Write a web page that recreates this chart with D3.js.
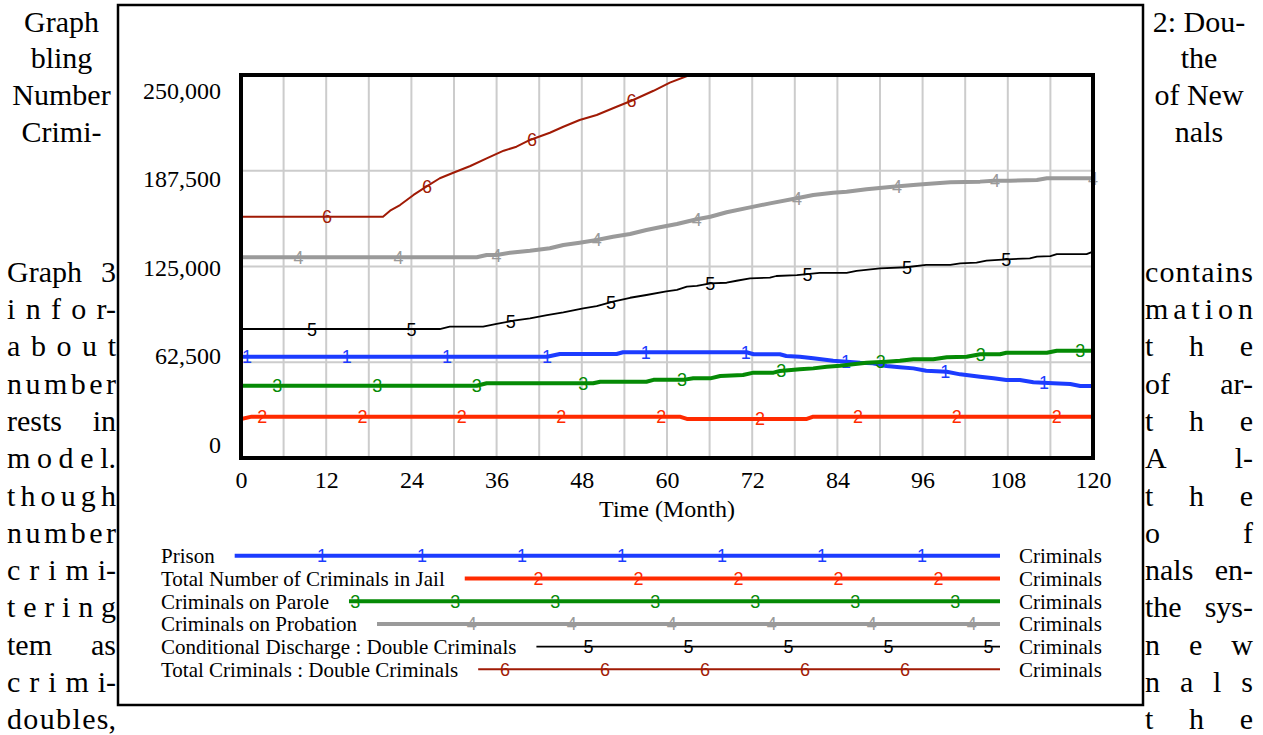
<!DOCTYPE html>
<html>

<head>
    <meta charset="utf-8">
    <style>
        body {
            margin: 0;
            background: #fff;
        }

        svg {
            display: block;
        }

        .page-text {
            font-family: "Liberation Serif", "Times New Roman", serif;
            font-size: 30px;
            fill: #000;
        }

        .tick text {
            font-family: "Liberation Serif", "Times New Roman", serif;
            font-size: 24px;
            fill: #000;
        }

        .axis-title {
            font-family: "Liberation Serif", "Times New Roman", serif;
            font-size: 24px;
        }

        .legend-label {
            font-family: "Liberation Serif", "Times New Roman", serif;
            font-size: 21px;
        }

        .marker {
            font-family: "Liberation Sans", Arial, sans-serif;
            font-size: 18px;
        }
    </style>
</head>

<body>
    <svg width="1263" height="735"></svg>
</body>

<script src="https://d3js.org/d3.v7.min.js"></script>

<script>
    // ---- data: [month, criminals] ----
    let prison = [[0, 66100], [43.1, 66100], [44.9, 67900], [52.9, 67900], [53.8, 69000], [71.2, 69000],
        [72.2, 67700], [75.9, 67700], [76.8, 66600], [78.7, 66100], [80.6, 65100], [83.4, 63500],
        [85.3, 62900], [87.2, 62200], [89, 61800], [90.9, 60000], [92.8, 59200], [94.7, 58500],
        [96.5, 57000], [99.4, 56300], [101.3, 54600], [104.1, 53100], [106, 52000], [107.8, 50900],
        [109.7, 50900], [111.6, 49400], [114.4, 48800], [116.8, 48300], [118.2, 47000], [120, 47000]]

    let jail = [[0, 25500], [1.5, 27000], [61.8, 27000], [62.8, 25500], [79.7, 25500], [80.6, 27000], [120, 27000]]

    let parole = [[0, 47200], [33.2, 47200], [34.6, 48800], [49.6, 48800], [50.6, 49800], [57.1, 49800],
        [58.1, 51000], [62.3, 51000], [63.7, 52000], [66.1, 52000], [67.5, 53500], [70.7, 54200],
        [72.2, 55700], [75, 55700], [75.9, 56800], [78.7, 57900], [80.6, 58500], [82.5, 59600],
        [84.4, 60200], [86.2, 61200], [88.1, 62200], [90.9, 62900], [92.8, 63500], [94.7, 64400],
        [97.5, 64400], [99.4, 65700], [102.2, 66100], [104.1, 67700], [106.9, 67700], [107.8, 68700],
        [113.5, 68700], [114.9, 70000], [120, 70000]]

    let probation = [[0, 131000], [33.2, 131000], [34.6, 132500], [36, 132500], [37.9, 134000], [40.7, 135300],
        [43.5, 136900], [45.4, 139000], [47.7, 140500], [50.1, 142300], [52.4, 144400], [54.8, 146200],
        [57.1, 148800], [59, 150600], [61.4, 152700], [64.2, 155800], [66.1, 157500], [68.4, 160400],
        [71.7, 163600], [74.5, 166200], [78.3, 169500], [80.6, 171700], [83.4, 173200], [85.3, 173800],
        [88.1, 175400], [91.8, 177100], [94.7, 178200], [96.5, 178800], [99.9, 180000], [104.1, 180400],
        [106, 181000], [108.3, 181000], [112.1, 181500], [113.5, 182600], [120, 182600]]

    let discharge = [[0, 84200], [28, 84200], [29.4, 85700], [34.1, 85700], [36, 87500], [38.4, 89600],
        [40.7, 91200], [43.1, 93300], [45.4, 95100], [48.2, 97700], [50.1, 99200], [52.4, 102000],
        [54.8, 104600], [57.1, 106400], [59.9, 108800], [61.4, 109700], [62.8, 111800], [64.2, 112300],
        [66.1, 114000], [68.4, 114400], [69.8, 115700], [71.7, 117300], [74.5, 117700], [75.4, 118800],
        [78.3, 119400], [81.5, 120900], [85.3, 120900], [86.7, 122200], [90, 123800], [93.7, 124500],
        [96.5, 126000], [99.9, 126000], [101.3, 127100], [103.6, 127500], [105, 128800], [107.8, 129700],
        [111.1, 130300], [112.1, 131400], [114, 131800], [114.9, 133100], [119.1, 133100], [120, 134700]]

    let totalCriminals = [[0, 157500], [20, 157500], [21, 161400], [22.4, 165100], [24.3, 171700], [26.1, 177100],
        [28, 182600], [29.9, 186200], [32.3, 190600], [34.6, 195600], [37, 200600], [38.8, 203200],
        [40.7, 207600], [43.5, 212300], [45.4, 216200], [47.7, 220600], [50.1, 223900], [52.9, 229300],
        [55, 233200], [58.1, 239700], [60.4, 245000], [63.2, 250000]]

    // months where the series number is printed on each line
    let markerMonths = [
        [0.85, 14.9, 29, 43.1, 57, 71.1, 85.2, 99.2, 113.1],
        [3, 17.1, 31.1, 45.1, 59.2, 73.1, 86.9, 100.8, 114.9],
        [5.1, 19.2, 33.2, 48.2, 62.1, 76.1, 90.1, 104.2, 118.2],
        [8.1, 22.2, 36, 50.1, 64.2, 78.3, 92.4, 106.2, 120],
        [10, 24, 38, 52.1, 66.1, 79.8, 93.8, 107.8],
        [12.1, 26.2, 41, 55]
    ]

    let seriesNames = ["Prison", "Total Number of Criminals in Jail", "Criminals on Parole",
        "Criminals on Probation", "Conditional Discharge : Double Criminals", "Total Criminals : Double Criminals"]
    let seriesUnits = ["Criminals", "Criminals", "Criminals", "Criminals", "Criminals", "Criminals"]
    let seriesColors = ["#1c3cff", "#ff2a00", "#058a05", "#9a9a9a", "#000000", "#a01a05"]
    let seriesWidths = [4, 4, 4, 4, 1.8, 2]

    let xTicks = [0, 12, 24, 36, 48, 60, 72, 84, 96, 108, 120]
    let yTicks = [0, 62500, 125000, 187500, 250000]
    let xLabel = "Time (Month)"

    // text of the page that wraps round the figure
    let leftCaption = ["Graph", "bling", "Number", "Crimi-"]
    let rightCaption = ["2: Dou-", "the", "of New", "nals"]
    let leftPara = ["Graph 3", "infor-", "about", "number", "rests in", "model.", "though", "number",
        "crimi-", "tering", "tem as", "crimi-", "doubles,"]
    let rightPara = ["contains", "mation", "the", "of ar-", "the", "Al-", "the", "of", "nals en-",
        "the sys-", "new", "nals", "the"]

    let allSeries = [prison, jail, parole, probation, discharge, totalCriminals]

    let svg = d3.select("svg")

    // ---- page text ----
    let page = svg.append("g").attr("class", "page-text")

    function pageLine(str, x0, x1, yb, centered) {
        if (centered) {
            page.append("text").attr("x", (x0 + x1) / 2).attr("y", yb)
                .attr("text-anchor", "middle").text(str)
            return
        }
        let words = str.split(" ")
        if (words.length === 1) {
            // a lone word is spread letter by letter, punctuation sticks to its letter
            let units = str.match(/.[-.,]?/g)
            let t = page.append("text").attr("y", yb)
            let spans = units.map(u => t.append("tspan").text(u))
            let widths = spans.map(s => s.node().getComputedTextLength())
            let gap = units.length > 1 ? (x1 - x0 - d3.sum(widths)) / (units.length - 1) : 0
            let cx = x0
            spans.forEach((s, i) => {
                s.attr("x", cx)
                cx += widths[i] + gap
            })
        } else {
            let nodes = words.map(wd => page.append("text").attr("y", yb).text(wd))
            let widths = nodes.map(n => n.node().getComputedTextLength())
            let gap = (x1 - x0 - d3.sum(widths)) / (words.length - 1)
            let cx = x0
            nodes.forEach((n, i) => {
                n.attr("x", cx)
                cx += widths[i] + gap
            })
        }
    }

    leftCaption.forEach((s, i) => pageLine(s, 7, 116, 31.7 + 36.7 * i, true))
    rightCaption.forEach((s, i) => pageLine(s, 1145, 1253, 31.7 + 36.7 * i, true))
    leftPara.forEach((s, i) => pageLine(s, 7, 116, 281.7 + 37.3 * i, false))
    rightPara.forEach((s, i) => pageLine(s, 1145, 1253, 281.7 + 37.3 * i, false))

    // figure box
    svg.append("rect")
        .attr("x", 118).attr("y", 5).attr("width", 1025).attr("height", 700)
        .style("fill", "#fff").style("stroke", "#000").style("stroke-width", 2.5)

    // ---- chart ----
    let x = d3.scaleLinear().domain([0, 120]).range([241, 1093])
    let y = d3.scaleLinear().domain([0, 250000]).range([458, 75])
    // vensim spreads the value labels evenly inside the plot height
    let yLabelPos = d3.scaleLinear().domain([0, 250000]).range([444.5, 90.5])

    let grid = svg.append("g")
        .style("stroke", "#cccccc")
        .style("stroke-width", 2)

    grid.selectAll(".vgrid")
        .data(d3.range(6, 120, 6))
        .join("line")
        .attr("x1", d => x(d)).attr("x2", d => x(d))
        .attr("y1", y(250000)).attr("y2", y(0))

    grid.selectAll(".hgrid")
        .data(yTicks.slice(1, -1))
        .join("line")
        .attr("x1", x(0)).attr("x2", x(120))
        .attr("y1", d => y(d)).attr("y2", d => y(d))

    svg.append("defs").append("clipPath").attr("id", "plot-clip")
        .append("rect").attr("x", x(0)).attr("y", y(250000) - 1)
        .attr("width", x(120) - x(0) + 6).attr("height", y(0) - y(250000) + 2)

    let line = d3.line()
        .x(d => x(d[0]))
        .y(d => y(d[1]))

    let bisect = d3.bisector(d => d[0]).left

    function valueAt(series, t) {
        let i = bisect(series, t)
        if (i <= 0) return series[0][1]
        if (i >= series.length) return series[series.length - 1][1]
        let a = series[i - 1], b = series[i]
        return a[1] + (b[1] - a[1]) * (t - a[0]) / (b[0] - a[0])
    }

    let plot = svg.append("g").attr("clip-path", "url(#plot-clip)")

    allSeries.forEach((series, i) => {
        plot.append("path")
            .datum(series)
            .attr("d", line)
            .style("fill", "none")
            .style("stroke", seriesColors[i])
            .style("stroke-width", seriesWidths[i])
            .style("stroke-linejoin", "round")

        plot.selectAll(".marker-" + i)
            .data(markerMonths[i])
            .join("text")
            .attr("class", "marker")
            .attr("x", d => x(d))
            .attr("y", d => y(valueAt(series, d)) + 6.5)
            .attr("text-anchor", "middle")
            .style("fill", seriesColors[i])
            .text(i + 1)
    })

    // plot frame
    svg.append("rect")
        .attr("x", x(0)).attr("y", y(250000))
        .attr("width", x(120) - x(0)).attr("height", y(0) - y(250000))
        .style("fill", "none").style("stroke", "#000").style("stroke-width", 4)

    // axes (labels only)
    let xAxis = svg.append("g")
        .attr("transform", "translate(0," + y(0) + ")")
        .call(d3.axisBottom(x).tickValues(xTicks).tickSize(0).tickPadding(13))
    xAxis.select(".domain").remove()
    xAxis.attr("font-family", null).attr("font-size", null)

    let yAxis = svg.append("g")
        .attr("transform", "translate(221,0)")
        .call(d3.axisLeft(yLabelPos).tickValues(yTicks).tickSize(0).tickPadding(0).tickFormat(d3.format(",")))
    yAxis.select(".domain").remove()
    yAxis.attr("font-family", null).attr("font-size", null)

    svg.append("text")
        .attr("class", "axis-title")
        .attr("x", (x(0) + x(120)) / 2)
        .attr("y", 517)
        .attr("text-anchor", "middle")
        .text(xLabel)

    // ---- legend ----
    let legend = svg.append("g")

    seriesNames.forEach((name, i) => {
        let base = 563.3 + 22.7 * i
        let ly = base - 7.5
        let label = legend.append("text")
            .attr("class", "legend-label")
            .attr("x", 161).attr("y", base)
            .text(name)
        let start = 161 + label.node().getComputedTextLength() + 20
        let end = 1000

        legend.append("line")
            .attr("x1", start).attr("x2", end)
            .attr("y1", ly).attr("y2", ly)
            .style("stroke", seriesColors[i])
            .style("stroke-width", seriesWidths[i])

        let phase = 22 + 16.6 * i
        let marks = d3.range(phase, end, 100).filter(v => v > start)
        legend.selectAll(".lm-" + i)
            .data(marks)
            .join("text")
            .attr("class", "marker")
            .attr("x", d => d)
            .attr("y", ly + 6.5)
            .attr("text-anchor", "middle")
            .style("fill", seriesColors[i])
            .text(i + 1)

        legend.append("text")
            .attr("class", "legend-label")
            .attr("x", 1019).attr("y", base)
            .text(seriesUnits[i])
    })
</script>

</html>
